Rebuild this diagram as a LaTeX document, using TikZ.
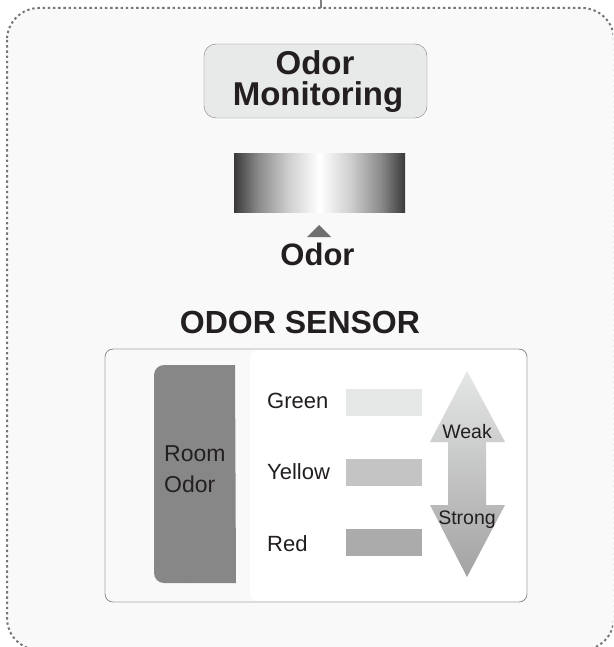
\documentclass[tikz,border=0pt]{standalone}
\usepackage{fontspec}
\setmainfont{Liberation Sans}
\usetikzlibrary{calc}

\definecolor{ink}{HTML}{231F20}
\definecolor{panelgray}{HTML}{F9F9F9}
\definecolor{framegray}{HTML}{7F7F7F}
\definecolor{dotgray}{HTML}{767676}
\definecolor{titlefill}{HTML}{E8E9E9}
\definecolor{roomgray}{HTML}{878787}
\definecolor{pointgray}{HTML}{6F6F6F}
\definecolor{level0}{HTML}{E6E7E7}
\definecolor{level1}{HTML}{C4C4C4}
\definecolor{level2}{HTML}{ABABAB}
\definecolor{arrowtop}{HTML}{E5E6E6}
\definecolor{arrowbot}{HTML}{A2A2A2}
\definecolor{bardark}{HTML}{3B393A}
\definecolor{barmid}{HTML}{8A8A8A}
\definecolor{barlight}{HTML}{CFCFCF}
\pgfdeclarehorizontalshading{odorbar}{100bp}{color(0bp)=(bardark); color(25bp)=(bardark); color(32bp)=(barmid); color(41bp)=(barlight); color(50bp)=(white); color(59bp)=(barlight); color(68bp)=(barmid); color(75bp)=(bardark); color(100bp)=(bardark)}

\begin{document}
\begin{tikzpicture}[x=1pt, y=-1pt,
    heading/.style={text=ink, inner sep=0pt, anchor=base, font=\fontsize{33}{33}\selectfont\bfseries},
    levellabel/.style={text=ink, inner sep=0pt, anchor=base west, font=\fontsize{22}{22}\selectfont},
    scalelabel/.style={text=ink, inner sep=0pt, anchor=base, font=\fontsize{19.5}{19.5}\selectfont}]
    \clip (0,0) rectangle (613,647);
    \fill[white] (0,0) rectangle (613,647);
    \coordinate (feedtop) at (321,0);
    \coordinate (feedend) at (321,8);
    \draw[dotgray, line width=2pt, dash pattern=on 2.4pt off 2.8pt, fill=panelgray, rounded corners=32pt] (7,8) rectangle (614,650);
    \draw[framegray, line width=1.3pt] (feedtop) -- (feedend);

    \node[draw=framegray, fill=titlefill, rounded corners=12pt, minimum width=223pt, minimum height=74pt, inner sep=0pt] (title) at (315.5,81) {};
    \node[heading] (titleA) at (315,75) {Odor};
    \node[heading] (titleB) at (318,106) {Monitoring};

    \shade[shading=odorbar] (234,154) rectangle (405,212);
    \fill[pointgray] (307,237) -- (319,225) -- (331,237) -- cycle;
    \node[heading, font=\fontsize{31}{31}\selectfont\bfseries] (odor) at (317.5,265) {Odor};
    \node[heading, font=\fontsize{32}{32}\selectfont\bfseries] (sensor) at (300,333) {ODOR SENSOR};

    \draw[framegray, fill=panelgray, rounded corners=8pt] (105,349) rectangle (527,602);
    \fill[white, rounded corners=8pt] (250,350) rectangle (526,601);
    \draw[framegray, rounded corners=8pt] (105,349) rectangle (527,602);

    \fill[roomgray, rounded corners=10pt] (154,365) rectangle (200,583);
    \fill[roomgray] (190,365) -- (235,365) -- (236,583) -- (190,583) -- cycle;
    \node[levellabel, font=\fontsize{23}{23}\selectfont] (room) at (164,461) {Room};
    \node[levellabel, font=\fontsize{23}{23}\selectfont] (roomodor) at (164,492) {Odor};

    \foreach \lab [count=\i from 0] in {Green, Yellow, Red} {
        \pgfmathsetmacro{\yb}{408 + 71.5*\i}
        \pgfmathsetmacro{\yt}{389 + 70*\i}
        \node[levellabel] (lab\i) at (267,\yb) {\lab};
        \fill[level\i] (346,\yt) rectangle (422,{\yt+27});
    }

    \shade[top color=arrowtop, bottom color=arrowbot] (467,371) -- (505,442) -- (486,442) -- (486,505) -- (505,505) -- (467,577) -- (430,505) -- (448,505) -- (448,442) -- (430,442) -- cycle;
    \node[scalelabel] (weak) at (467,438) {Weak};
    \node[scalelabel] (strong) at (467,524) {Strong};
\end{tikzpicture}
\end{document}
